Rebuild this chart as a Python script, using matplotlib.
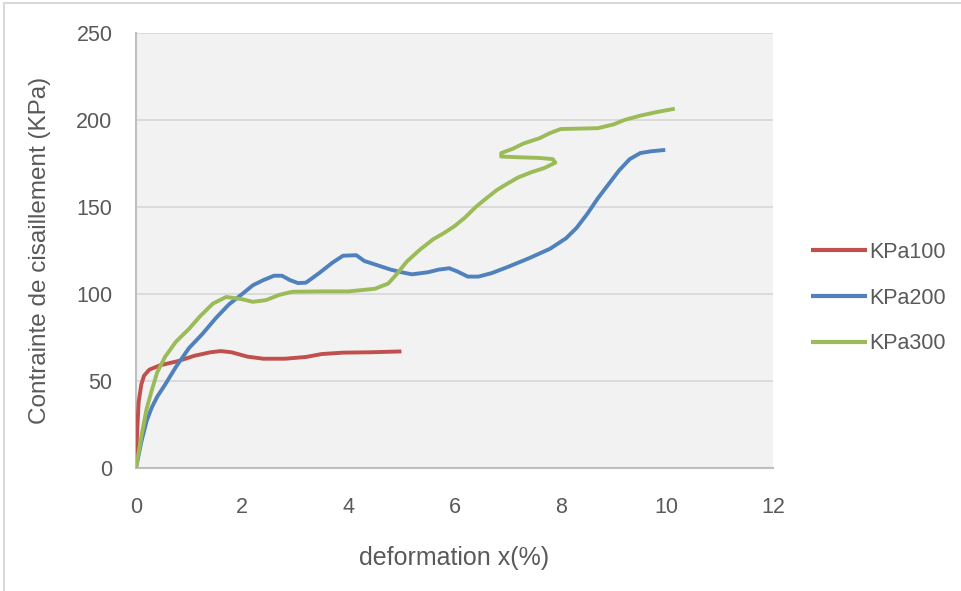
import matplotlib
matplotlib.use("Agg")
import matplotlib.pyplot as plt
from matplotlib.lines import Line2D

plt.rcParams['font.family'] = ['Liberation Sans', 'DejaVu Sans']

# ---- data ----
x100 = [0, 0.02, 0.05, 0.1, 0.15, 0.25, 0.45, 0.8, 1.1, 1.4, 1.6, 1.8, 2.1, 2.4, 2.8, 3.2, 3.5, 3.9, 4.4, 5.0]
y100 = [0, 20, 38, 48, 53, 56.5, 59, 61.5, 64.5, 66.5, 67.2, 66.5, 64, 62.8, 62.8, 63.8, 65.5, 66.3, 66.5, 67]

x200 = [0, 0.1, 0.2, 0.3, 0.4, 0.55, 0.75, 1.0, 1.25, 1.5, 1.75, 2.0, 2.2, 2.4, 2.6, 2.75, 2.9, 3.05, 3.2,
        3.45, 3.7, 3.9, 4.15, 4.3, 4.55, 4.8, 5.0, 5.2, 5.5, 5.7, 5.9, 6.05, 6.25, 6.45, 6.7, 7.0, 7.4, 7.8,
        8.1, 8.3, 8.5, 8.7, 8.9, 9.1, 9.3, 9.5, 9.7, 9.97]
y200 = [0, 15, 27, 35, 41, 48, 58, 69, 77, 86, 94, 100, 105, 108, 110.5, 110.5, 108, 106.3, 106.5,
        112, 118, 122, 122.3, 119, 116.5, 114, 112.5, 111.3, 112.5, 114, 114.8, 113, 110, 110, 112, 115.5, 120.5, 126,
        132, 138, 146, 155, 163, 171, 177.5, 181, 182, 182.8]

x300 = [0, 0.1, 0.2, 0.3, 0.4, 0.55, 0.75, 1.0, 1.2, 1.45, 1.7, 2.0, 2.2, 2.45, 2.7, 2.95, 3.5, 4.0, 4.5,
        4.75, 4.9, 5.1, 5.35, 5.6, 5.8, 6.0, 6.2, 6.4, 6.6, 6.8, 7.0, 7.2, 7.45, 7.7, 7.9, 7.85, 7.6, 7.2,
        6.88, 6.88, 7.1, 7.3, 7.6, 7.8, 8.0, 8.7, 9.0, 9.2, 9.5, 9.8, 10.15]
y300 = [0, 18, 34, 45, 55, 64, 72.5, 80, 87, 94.5, 98.3, 97, 95.5, 96.5, 99.5, 101.3, 101.5, 101.5, 103,
        106, 111, 118.6, 125.5, 131.5, 135, 139, 144, 150, 155, 159.8, 163.5, 167, 170, 172.5, 175.5, 177.5, 178.2, 178.6,
        179, 181, 183.5, 186.5, 189.5, 192.5, 194.8, 195.3, 197.5, 200, 202.5, 204.5, 206.5]

series_labels = ["KPa100", "KPa200", "KPa300"]
colors = ["#c0504d", "#4f81bd", "#9bbb59"]
xticks = [0, 2, 4, 6, 8, 10, 12]
yticks = [0, 50, 100, 150, 200, 250]

text_color = "#595959"

fig = plt.figure(figsize=(9.62, 5.91), dpi=100)
fig.patch.set_facecolor("white")
# light border on left and top of the chart area
fig.add_artist(Line2D([4/962, 4/962], [0, 1 - 3/591], color="#d9d9d9", lw=1.5, transform=fig.transFigure))
fig.add_artist(Line2D([4/962, 1], [1 - 3/591, 1 - 3/591], color="#d9d9d9", lw=1.5, transform=fig.transFigure))

ax = fig.add_axes([136/962, (591-468)/591, (773-136)/962, (468-33)/591])
ax.set_facecolor("#f2f2f2")

for xs, ys, lab, c in zip([x100, x200, x300], [y100, y200, y300], series_labels, colors):
    ax.plot(xs, ys, color=c, lw=2.8, label=lab, solid_joinstyle="round", solid_capstyle="butt", zorder=3)

ax.set_xlim(0, 12)
ax.set_ylim(0, 250)
ax.set_xticks(xticks)
ax.set_yticks(yticks)
ax.grid(axis="y", color="#d9d9d9", lw=1.3, zorder=0)
ax.set_axisbelow(True)
for s in ["top", "right"]:
    ax.spines[s].set_visible(False)
for s in ["left", "bottom"]:
    ax.spines[s].set_color("#bfbfbf")
    ax.spines[s].set_linewidth(1.5)
ax.tick_params(axis="both", length=0, labelsize=15.5, colors=text_color)
ax.tick_params(axis="x", pad=21)
ax.tick_params(axis="y", pad=17)

ax.set_xlabel("deformation x(%)", fontsize=18, color=text_color, labelpad=20)
ax.set_ylabel("Contrainte de cisaillement (KPa)", fontsize=17.5, color=text_color, labelpad=18)

leg = ax.legend(loc="center left", bbox_to_anchor=(811/962, (591-298)/591), bbox_transform=fig.transFigure,
                frameon=False, fontsize=15.5, handlelength=2.6, handletextpad=0.12, labelspacing=1.15,
                borderpad=0, borderaxespad=0)
for t in leg.get_texts():
    t.set_color(text_color)
for h in leg.get_lines():
    h.set_linewidth(3)

fig.savefig("out.png", dpi=100)
